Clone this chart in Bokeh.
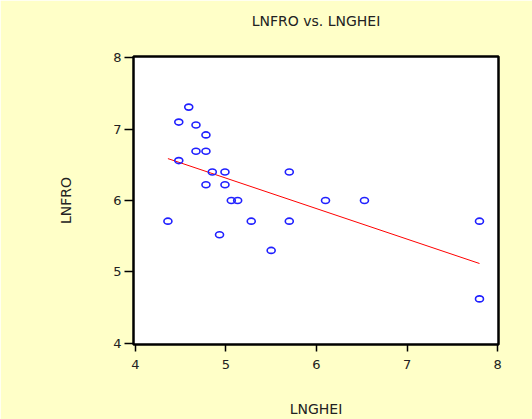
import numpy as np
from bokeh.plotting import figure
from bokeh.embed import file_html
from bokeh.resources import INLINE
from bokeh.models import FixedTicker, ColumnDataSource, Title

# LNGHEI (x) and LNFRO (y) observations
lnghei = [4.59, 4.48, 4.67, 4.78, 4.67, 4.78, 4.48, 4.85, 4.99, 5.70, 4.78, 4.99,
          5.06, 5.13, 6.10, 6.53, 4.36, 5.28, 5.70, 7.80, 4.93, 5.50, 7.80]
lnfro = [7.31, 7.10, 7.06, 6.92, 6.69, 6.69, 6.56, 6.40, 6.40, 6.40, 6.22, 6.22,
         6.00, 6.00, 6.00, 6.00, 5.71, 5.71, 5.71, 5.71, 5.52, 5.30, 4.62]
axis_ticks = [4, 5, 6, 7, 8]

BG = "#FFFFC8"
FONT = "DejaVu Sans"

p = figure(width=532, height=419, output_backend="svg", toolbar_location=None,
           x_range=(3.98, 8.01), y_range=(3.98, 8.02),
           title="LNFRO vs. LNGHEI",
           min_border_left=133, min_border_right=34,
           min_border_top=56, min_border_bottom=72)

p.background_fill_color = "white"
p.border_fill_color = BG
p.outline_line_color = "black"
p.outline_line_width = 2.5
p.grid.visible = False

p.title.align = "center"
p.title.text_font = FONT
p.title.text_font_size = "14px"
p.title.text_font_style = "normal"
p.title.text_color = "#222222"
p.title.standoff = 18

# empty band that keeps the heading clear of the frame
p.add_layout(Title(text=" ", text_font_size="1px", standoff=16), "above")

for ax in (p.xaxis[0], p.yaxis[0]):
    ax.ticker = FixedTicker(ticks=axis_ticks)
    ax.axis_line_color = None
    ax.major_tick_line_color = "black"
    ax.major_tick_line_width = 1.5
    ax.major_tick_in = 0
    ax.minor_tick_line_color = None
    ax.major_label_text_font = FONT
    ax.major_label_text_font_size = "13px"
    ax.major_label_text_color = "#222222"
    ax.axis_label_text_font = FONT
    ax.axis_label_text_font_size = "14px"
    ax.axis_label_text_font_style = "normal"
    ax.axis_label_text_color = "#222222"

p.xaxis.axis_label = "LNGHEI"
p.xaxis.major_tick_out = 7
p.xaxis.major_label_standoff = 8
p.xaxis.axis_label_standoff = 29

p.yaxis.axis_label = "LNFRO"
p.yaxis.major_tick_out = 9
p.yaxis.major_label_standoff = 3
p.yaxis.axis_label_standoff = 36
p.yaxis.major_label_orientation = "horizontal"

# least-squares fit of LNFRO on LNGHEI
slope, intercept = np.polyfit(lnghei, lnfro, 1)
fit_x = [min(lnghei), max(lnghei)]
fit_y = [intercept + slope * v for v in fit_x]
p.line(fit_x, fit_y, line_color="red", line_width=1)

src = ColumnDataSource(dict(x=lnghei, y=lnfro))
p.ellipse(x="x", y="y", width=8, height=6, width_units="screen", height_units="screen",
          source=src, fill_color=None, line_color="#2020FF", line_width=1.6)

open("out.html", "w").write(file_html(p, INLINE))
